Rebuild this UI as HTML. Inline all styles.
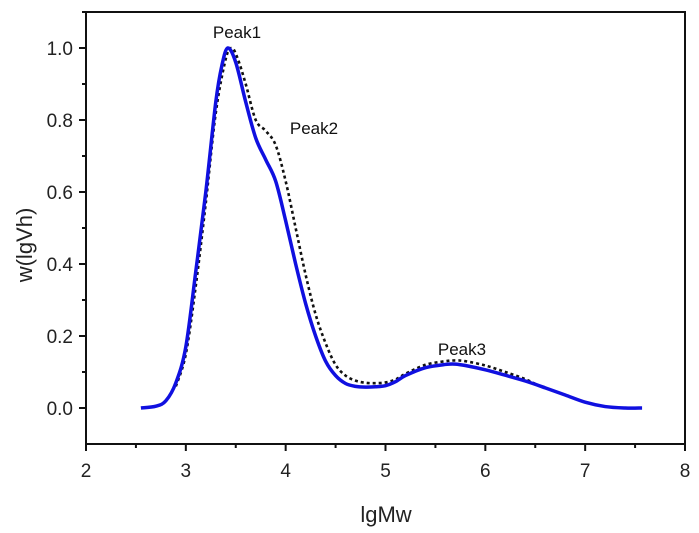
<!DOCTYPE html>
<html><head><meta charset="utf-8"><style>
body{margin:0;background:#fff;}
svg{display:block;font-family:"Liberation Sans",Arial,sans-serif;}
</style></head><body>
<svg id="chart" width="699" height="533" viewBox="0 0 699 533" xmlns="http://www.w3.org/2000/svg">
<g id="axes"></g>
<g id="series"></g>
<text x="386" y="522" font-size="22" text-anchor="middle" fill="#222">lgMw</text>
<text transform="translate(32,245) rotate(-90)" font-size="22" text-anchor="middle" fill="#222">w(lgVh)</text>
<text x="237" y="38" font-size="17" text-anchor="middle" fill="#111">Peak1</text>
<text x="314" y="134" font-size="17" text-anchor="middle" fill="#111">Peak2</text>
<text x="462" y="355" font-size="17" text-anchor="middle" fill="#111">Peak3</text>
</svg>
<script>
const xTicks=[2,3,4,5,6,7,8];
const yTicks=[0.0,0.2,0.4,0.6,0.8,1.0];
const yTickLabels=["0.0","0.2","0.4","0.6","0.8","1.0"];
const solidX=[2.55,2.7,2.8,2.9,3.0,3.1,3.2,3.3,3.36,3.42,3.5,3.6,3.7,3.8,3.9,4.0,4.1,4.2,4.3,4.4,4.5,4.6,4.7,4.8,4.9,5.0,5.1,5.2,5.4,5.6,5.7,5.8,6.0,6.2,6.4,6.6,6.8,7.0,7.2,7.4,7.57];
const solidY=[0,0.005,0.02,0.07,0.17,0.38,0.6,0.85,0.95,1.0,0.96,0.85,0.75,0.69,0.63,0.52,0.4,0.29,0.2,0.13,0.09,0.068,0.06,0.058,0.059,0.062,0.073,0.09,0.112,0.121,0.122,0.118,0.106,0.091,0.075,0.056,0.036,0.016,0.004,0,0];
const dotX=[2.9,3.0,3.1,3.2,3.3,3.4,3.46,3.52,3.6,3.7,3.8,3.9,4.0,4.1,4.2,4.3,4.4,4.5,4.6,4.7,4.8,4.9,5.0,5.1,5.2,5.4,5.6,5.7,5.8,6.0,6.2,6.4,6.55];
const dotY=[0.06,0.15,0.34,0.57,0.82,0.97,1.0,0.97,0.9,0.8,0.77,0.73,0.63,0.5,0.37,0.26,0.18,0.12,0.09,0.076,0.07,0.069,0.071,0.079,0.095,0.12,0.13,0.132,0.13,0.118,0.1,0.08,0.06];
const L=86,R=685,T=12,B=444,xmin=2,xmax=8,ymin=-0.1,ymax=1.1;
const sx=v=>L+(v-xmin)/(xmax-xmin)*(R-L);
const sy=v=>B-(v-ymin)/(ymax-ymin)*(B-T);
const NS="http://www.w3.org/2000/svg";
function mk(tag,attrs,parent){const e=document.createElementNS(NS,tag);for(const k in attrs)e.setAttribute(k,attrs[k]);parent.appendChild(e);return e;}
const ax=document.getElementById('axes');
let fr=mk('rect',{x:L,y:T,width:R-L,height:B-T,fill:'none',stroke:'#111','stroke-width':2},ax);


xTicks.forEach((v,i)=>{
  let t=mk('line',{x1:sx(v),x2:sx(v),y1:B,y2:B+7,stroke:'#111','stroke-width':2},ax);
  
  
  if(i<xTicks.length-1){let m=mk('line',{x1:sx(v+0.5),x2:sx(v+0.5),y1:B,y2:B+4,stroke:'#111','stroke-width':2},ax);
  
  }
  let tx=mk('text',{x:sx(v),y:B+33,'font-size':19,'text-anchor':'middle',fill:'#222'},ax);tx.textContent=v;
  
  
});
yTicks.forEach((v,i)=>{
  let t=mk('line',{x1:L-7,x2:L,y1:sy(v),y2:sy(v),stroke:'#111','stroke-width':2},ax);
  
  
  let m=mk('line',{x1:L-4,x2:L,y1:sy(v+0.1),y2:sy(v+0.1),stroke:'#111','stroke-width':2},ax);
  
  
  let tx=mk('text',{x:L-13,y:sy(v)+7,'font-size':19,'text-anchor':'end',fill:'#222'},ax);tx.textContent=yTickLabels[i];
  
  
});
function pathD(xs,ys){
  const p=xs.map((x,i)=>[sx(x),sy(ys[i])]);
  let d='M'+p[0][0]+','+p[0][1];
  for(let i=0;i<p.length-1;i++){
    const p0=p[Math.max(0,i-1)],p1=p[i],p2=p[i+1],p3=p[Math.min(p.length-1,i+2)];
    const c1=[p1[0]+(p2[0]-p0[0])/6,p1[1]+(p2[1]-p0[1])/6];
    const c2=[p2[0]-(p3[0]-p1[0])/6,p2[1]-(p3[1]-p1[1])/6];
    d+=' C'+c1+' '+c2+' '+p2;
  }
  return d;
}
const sg=document.getElementById('series');
let dl=mk('path',{d:pathD(dotX,dotY),fill:'none',stroke:'#111','stroke-width':2.6,'stroke-dasharray':'3,3'},sg);


let sl=mk('path',{d:pathD(solidX,solidY),fill:'none',stroke:'#1010e0','stroke-width':3.5,'stroke-linejoin':'round'},sg);


</script>
</body></html>
